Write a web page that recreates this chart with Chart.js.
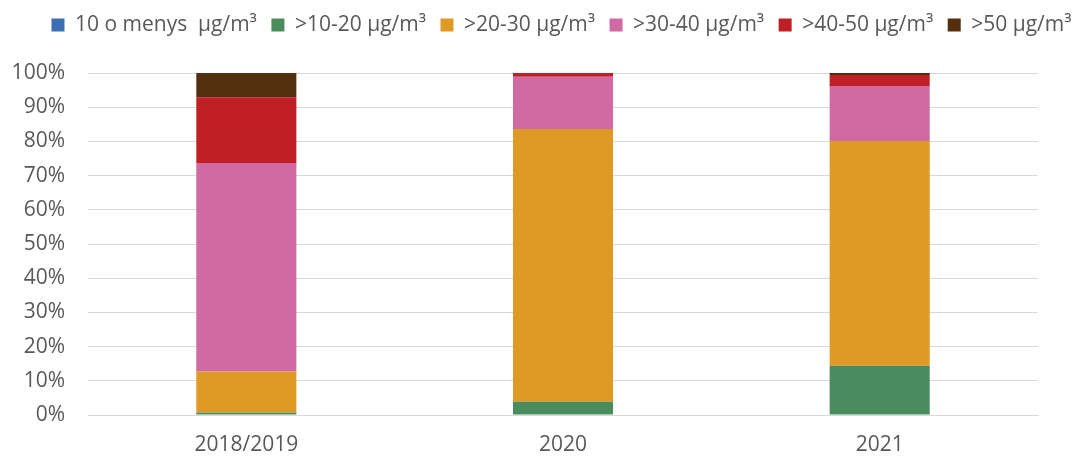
<!DOCTYPE html>
<html>
<head>
<meta charset="utf-8">
<script src="https://cdn.jsdelivr.net/npm/chart.js@4/dist/chart.umd.min.js"></script>
<style>
  html, body { margin: 0; padding: 0; background: #ffffff; }
  #wrap { width: 1075px; height: 456px; }
</style>
</head>
<body>
<div id="wrap"><canvas id="chart" width="1075" height="456"></canvas></div>
<script>
// Share of stations by annual NO2 concentration band (%)
const categories = ['2018/2019', '2020', '2021'];
const seriesNames = ['10 o menys  μg/m³', '>10-20 μg/m³', '>20-30 μg/m³', '>30-40 μg/m³', '>40-50 μg/m³', '>50 μg/m³'];
const band10 = [0, 0, 0];
const band20 = [0.7, 3.9, 14.4];
const band30 = [12.0, 79.7, 65.7];
const band40 = [61.0, 15.3, 16.1];
const band50 = [19.2, 1.1, 3.2];
const bandOver50 = [7.1, 0, 0.6];
const yTicks = [0, 10, 20, 30, 40, 50, 60, 70, 80, 90, 100];

const colors = ['#3b6fb1', '#4b8c5f', '#df9a26', '#d16aa2', '#c01f26', '#532f10'];
const values = [band10, band20, band30, band40, band50, bandOver50];

const FONT = "'Open Sans', sans-serif";
const TEXT = '#595959';

// Legend row: kept on one line, in a fixed band above the plot,
// centred a little right of the plot area.
const legendBand = {
  id: 'legendBand',
  beforeLayout(chart) {
    const lg = chart.legend;
    if (lg && !lg.__banded) {
      const fit = lg.fit.bind(lg);
      lg.fit = function () {
        this.maxWidth = 1200;
        fit();
        this.height = 73;
      };
      lg.__banded = true;
    }
  },
  afterLayout(chart) {
    const lg = chart.legend;
    if (lg) {
      lg.left = 8;
      lg.right = 1115;
    }
  }
};

new Chart(document.getElementById('chart'), {
  type: 'bar',
  data: {
    labels: categories,
    datasets: seriesNames.map((name, i) => ({
      label: name,
      data: values[i],
      backgroundColor: colors[i],
      borderWidth: 0,
      categoryPercentage: 1,
      barPercentage: 0.316
    }))
  },
  plugins: [legendBand],
  options: {
    responsive: false,
    animation: false,
    layout: { padding: { left: 0, right: 37, top: 0, bottom: 0 } },
    plugins: {
      tooltip: { enabled: false },
      legend: {
        position: 'top',
        align: 'center',
        labels: {
          font: { family: FONT, size: 21 },
          color: TEXT,
          boxWidth: 13,
          boxHeight: 13,
          padding: 14.5
        }
      }
    },
    scales: {
      x: {
        stacked: true,
        grid: { display: false, drawTicks: false },
        border: { color: '#d9d9d9', width: 1 },
        ticks: { font: { family: FONT, size: 21 }, color: TEXT, padding: 17 },
        afterFit: (s) => { s.height = 41; }
      },
      y: {
        stacked: true,
        min: 0,
        max: 100,
        afterBuildTicks: (s) => { s.ticks = yTicks.map(v => ({ value: v })); },
        grid: { color: '#d9d9d9', lineWidth: 1, drawTicks: false },
        border: { display: false },
        ticks: {
          font: { family: FONT, size: 21 },
          color: TEXT,
          padding: 23,
          callback: (v) => v + '%'
        },
        afterFit: (s) => { s.width = 88; }
      }
    }
  }
});
</script>
</body>
</html>
